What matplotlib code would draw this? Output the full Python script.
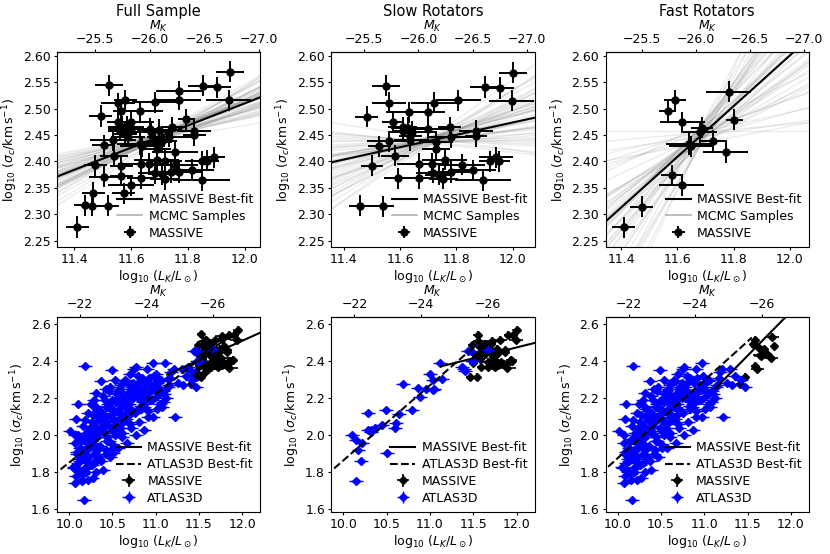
import numpy as np
import matplotlib.pyplot as plt

# MASSIVE full sample: log L_K, log sigma_c, x error
full_x = [11.948, 11.523, 11.852, 11.903, 11.769, 11.943, 11.767, 11.684, 11.580, 11.555,
          11.633, 11.566, 11.493, 11.794, 11.600, 11.555, 11.570, 11.585, 11.600, 11.560,
          11.580, 11.590, 11.665, 11.670, 11.700, 11.745, 11.822, 11.822, 11.735, 11.537,
          11.504, 11.630, 11.640, 11.710, 11.685, 11.690, 11.755, 11.475, 11.566, 11.540,
          11.867, 11.892, 11.850, 11.635, 11.663, 11.690, 11.720, 11.755, 11.770, 11.504,
          11.566, 11.635, 11.683, 11.710, 11.718, 11.740, 11.813, 11.848, 11.600, 11.574,
          11.467, 11.438, 11.464, 11.518, 11.411]
full_y = [2.570, 2.544, 2.543, 2.540, 2.533, 2.516, 2.517, 2.512, 2.516, 2.510,
          2.495, 2.495, 2.486, 2.480, 2.474, 2.475, 2.466, 2.466, 2.462, 2.458,
          2.452, 2.447, 2.462, 2.455, 2.460, 2.465, 2.458, 2.450, 2.447, 2.440,
          2.431, 2.433, 2.429, 2.439, 2.437, 2.424, 2.417, 2.393, 2.392, 2.411,
          2.401, 2.408, 2.400, 2.396, 2.396, 2.403, 2.401, 2.394, 2.380, 2.371,
          2.373, 2.368, 2.378, 2.376, 2.366, 2.380, 2.384, 2.364, 2.355, 2.340,
          2.341, 2.317, 2.316, 2.316, 2.276]
full_xe = [0.05, 0.05, 0.05, 0.05, 0.08, 0.08, 0.08, 0.08, 0.04, 0.06,
           0.08, 0.03, 0.04, 0.03, 0.08, 0.04, 0.05, 0.06, 0.08, 0.04,
           0.04, 0.06, 0.04, 0.06, 0.08, 0.04, 0.06, 0.04, 0.08, 0.08,
           0.04, 0.08, 0.08, 0.05, 0.06, 0.05, 0.08, 0.04, 0.04, 0.05,
           0.04, 0.04, 0.06, 0.08, 0.06, 0.08, 0.06, 0.08, 0.08, 0.05,
           0.04, 0.05, 0.06, 0.05, 0.05, 0.08, 0.08, 0.10, 0.08, 0.04,
           0.04, 0.04, 0.04, 0.04, 0.04]

# MASSIVE slow rotators
slow_x = [12.00, 11.549, 11.90, 11.955, 11.997, 11.807, 11.719, 11.56, 11.631, 11.70,
          11.481, 11.575, 11.609, 11.629, 11.644, 11.611, 11.637, 11.637, 11.70, 11.776,
          11.869, 11.869, 11.781, 11.527, 11.5625, 11.7275, 11.729, 11.50, 11.581, 11.669,
          11.7125, 11.759, 11.95, 11.92, 11.94, 11.821, 11.669, 11.594, 11.716, 11.7375,
          11.754, 11.78, 11.859, 11.894, 11.459, 11.54]
slow_y = [2.568, 2.543, 2.541, 2.539, 2.515, 2.516, 2.511, 2.511, 2.493, 2.493,
          2.485, 2.474, 2.465, 2.464, 2.456, 2.457, 2.448, 2.440, 2.461, 2.465,
          2.458, 2.448, 2.446, 2.429, 2.438, 2.437, 2.424, 2.392, 2.411, 2.396,
          2.396, 2.403, 2.400, 2.400, 2.408, 2.394, 2.368, 2.368, 2.379, 2.375,
          2.367, 2.380, 2.383, 2.364, 2.316, 2.315]
slow_xe = [0.05, 0.05, 0.05, 0.05, 0.08, 0.08, 0.08, 0.06, 0.08, 0.06,
           0.04, 0.04, 0.05, 0.06, 0.08, 0.04, 0.04, 0.06, 0.08, 0.04,
           0.06, 0.04, 0.08, 0.04, 0.08, 0.06, 0.05, 0.04, 0.05, 0.08,
           0.06, 0.08, 0.04, 0.04, 0.06, 0.08, 0.05, 0.05, 0.06, 0.05,
           0.05, 0.08, 0.08, 0.10, 0.04, 0.04]

# MASSIVE fast rotators
fast_x = [11.782, 11.592, 11.566, 11.618, 11.803, 11.687, 11.682, 11.641, 11.650, 11.727,
          11.772, 11.582, 11.615, 11.473, 11.409]
fast_y = [2.532, 2.516, 2.495, 2.474, 2.479, 2.464, 2.455, 2.433, 2.429, 2.439,
          2.417, 2.374, 2.355, 2.314, 2.275]
fast_xe = [0.08, 0.04, 0.03, 0.08, 0.03, 0.04, 0.06, 0.08, 0.08, 0.05,
           0.08, 0.04, 0.08, 0.04, 0.04]

# ATLAS3D slow rotators
a3d_slow_x = [11.111, 11.00, 11.037, 11.137, 10.689, 10.859, 10.956, 11.03, 11.048, 10.881,
              10.789, 10.641, 10.493, 10.289, 10.611, 10.593, 10.444, 10.37, 10.322, 10.289,
              10.315, 10.104, 10.141, 10.211, 10.174, 10.504, 10.204, 10.148,
              11.389, 11.407, 11.481, 11.444, 11.667, 11.474, 11.50, 11.37]
a3d_slow_y = [2.392, 2.330, 2.298, 2.301, 2.274, 2.256, 2.247, 2.244, 2.247, 2.207,
              2.135, 2.112, 2.135, 2.122, 2.068, 2.041, 2.054, 2.039, 2.030, 2.027,
              2.018, 2.003, 1.972, 1.958, 1.918, 1.904, 1.860, 1.752,
              2.356, 2.349, 2.398, 2.452, 2.461, 2.457, 2.403, 2.370]

# ATLAS3D fast rotators
a3d_fast_x = [
    10.08, 10.12, 10.06, 10.10, 10.14, 10.09, 10.13, 10.07, 10.01, 10.15,
    10.05, 10.12, 10.09, 10.14, 10.07, 10.11, 10.07, 10.13, 10.10, 10.08,
    10.17, 10.22, 10.16, 10.20, 10.24, 10.17, 10.21, 10.19, 10.23, 10.16,
    10.20, 10.24, 10.18, 10.22, 10.25, 10.18, 10.21, 10.17, 10.23, 10.19,
    10.25, 10.16, 10.22, 10.20, 10.24,
    10.27, 10.31, 10.26, 10.33, 10.29, 10.34, 10.28, 10.32, 10.26, 10.30,
    10.35, 10.27, 10.33, 10.29, 10.31, 10.28, 10.34, 10.30, 10.26, 10.32,
    10.29, 10.35, 10.27, 10.33, 10.30,
    10.39, 10.37, 10.42, 10.36, 10.44, 10.40, 10.38, 10.43, 10.41, 10.36,
    10.45, 10.39, 10.42, 10.37, 10.44, 10.40, 10.38, 10.43, 10.41, 10.36,
    10.39, 10.44,
    10.47, 10.51, 10.46, 10.53, 10.49, 10.54, 10.48, 10.52, 10.46, 10.50,
    10.55, 10.47, 10.53, 10.49, 10.51, 10.48, 10.54, 10.50, 10.46, 10.52,
    10.49, 10.55,
    10.57, 10.61, 10.56, 10.63, 10.59, 10.64, 10.58, 10.62, 10.56, 10.60,
    10.65, 10.57, 10.63, 10.59, 10.61, 10.58, 10.64, 10.60, 10.56, 10.62,
    10.67, 10.71, 10.66, 10.73, 10.69, 10.74, 10.68, 10.72, 10.66, 10.70,
    10.75, 10.67, 10.73, 10.69, 10.71, 10.68, 10.74, 10.70,
    10.77, 10.81, 10.76, 10.83, 10.79, 10.84, 10.78, 10.82, 10.80, 10.77,
    10.85, 10.79, 10.83, 10.76, 10.81, 10.84,
    10.87, 10.91, 10.86, 10.93, 10.89, 10.94, 10.88, 10.92, 10.90, 10.87,
    10.93, 10.89, 10.95, 10.91,
    10.97, 11.01, 10.96, 11.03, 10.99, 11.04, 10.98, 10.97, 11.02, 11.00,
    11.05, 11.01,
    11.07, 11.12, 11.09, 11.15, 11.06, 11.18, 11.10, 11.14, 11.08, 11.17,
    11.22, 11.21, 11.30, 11.32, 11.42, 11.47, 11.35, 11.26]
a3d_fast_y = [
    1.78, 1.80, 1.82, 1.85, 1.88, 1.90, 1.93, 1.96, 2.02, 1.76,
    1.83, 1.87, 1.91, 1.97, 2.00, 1.81, 1.74, 1.86, 2.17, 2.09,
    1.65, 1.76, 1.79, 1.82, 1.84, 1.87, 1.89, 1.92, 1.95, 1.98,
    2.01, 2.04, 2.08, 2.12, 2.17, 2.376, 1.86, 1.90, 1.93, 1.80,
    1.97, 2.05, 1.88, 1.83, 1.99,
    1.77, 1.80, 1.84, 1.87, 1.90, 1.93, 1.96, 1.99, 2.02, 2.05,
    2.08, 2.11, 2.14, 2.19, 2.23, 1.95, 1.88, 2.00, 2.07, 1.92,
    1.85, 2.03, 1.98, 2.10, 2.16,
    1.81, 1.86, 1.90, 1.94, 1.97, 2.01, 2.04, 2.07, 2.10, 2.13,
    2.17, 2.21, 2.25, 2.29, 1.99, 2.05, 2.12, 1.92, 2.19, 2.08,
    2.02, 2.15,
    1.88, 1.93, 1.97, 2.00, 2.04, 2.07, 2.10, 2.13, 2.16, 2.19,
    2.22, 2.26, 2.30, 2.35, 2.02, 2.11, 2.18, 1.95, 2.24, 2.08,
    2.14, 2.20,
    1.93, 1.99, 2.04, 2.08, 2.12, 2.15, 2.18, 2.21, 2.24, 2.27,
    2.30, 2.06, 2.17, 2.25, 2.01, 2.14, 2.20, 2.10, 2.23, 2.28,
    1.96, 2.04, 2.09, 2.13, 2.17, 2.20, 2.23, 2.26, 2.29, 2.33,
    2.36, 2.15, 2.22, 2.11, 2.25, 2.19, 2.28, 2.06,
    2.00, 2.07, 2.12, 2.16, 2.20, 2.23, 2.26, 2.29, 2.32, 2.37,
    2.18, 2.24, 2.14, 2.27, 2.21, 2.31,
    2.03, 2.10, 2.15, 2.19, 2.22, 2.25, 2.28, 2.31, 2.36, 2.17,
    2.24, 2.20, 2.27, 2.13,
    2.10, 2.14, 2.19, 2.23, 2.26, 2.29, 2.32, 2.39, 2.21, 2.25,
    2.17, 2.28,
    2.15, 2.20, 2.24, 2.27, 2.30, 2.34, 2.22, 2.26, 2.18, 2.31,
    2.10, 2.36, 2.36, 2.27, 2.30, 2.26, 2.32, 2.28]

# best fits: (pivot x, pivot y, slope)
massive_fit = {'full': (11.70, 2.447, 0.21), 'slow': (11.72, 2.441, 0.117),
               'fast': (11.68, 2.447, 0.48)}
massive_fit_bottom = {'full': (11.70, 2.447, 0.21), 'slow': (11.72, 2.441, 0.117),
                      'fast': (11.50, 2.429, 0.475)}
# (x0, y0, slope, x end)
atlas_fit = {'full': (9.86, 1.80, 0.37, 11.95), 'slow': (9.86, 1.807, 0.406, 11.50),
             'fast': (9.86, 1.817, 0.42, 11.55)}

mcmc_slopes = {
    'full': [0.21, 0.15, 0.26, 0.18, 0.23, 0.12, 0.29, 0.20, 0.17, 0.24, 0.10, 0.31, 0.19, 0.22, 0.14,
             0.27, 0.16, 0.25, 0.21, 0.13, 0.28, 0.18, 0.23, 0.11, 0.33, 0.20, 0.16, 0.26, 0.19, 0.22,
             0.17, 0.24, 0.20, 0.13, 0.30, 0.22, 0.18, 0.25, 0.15, 0.27, 0.21, 0.09, 0.23, 0.19, 0.28,
             0.16, 0.34, 0.12, 0.26, 0.20],
    'slow': [0.12, 0.02, 0.22, 0.08, 0.17, -0.03, 0.27, 0.10, 0.05, 0.19, -0.08, 0.31, 0.13, 0.00, 0.24,
             0.07, 0.15, -0.05, 0.20, 0.11, 0.29, 0.04, 0.16, 0.09, 0.35, 0.14, -0.01, 0.21, 0.06, 0.18,
             0.10, 0.25, -0.06, 0.19, 0.03, 0.28, 0.13, 0.08, 0.33, -0.02, 0.16, 0.22, 0.05, 0.12, 0.38,
             0.01, 0.18, 0.26, 0.07, 0.14],
    'fast': [0.48, 0.30, 0.65, 0.40, 0.55, 0.15, 0.85, 0.45, 0.35, 0.60, 0.05, 1.00, 0.50, 0.25, 0.75,
             0.38, 0.58, 0.10, 0.70, 0.44, 0.90, 0.28, 0.52, 0.20, 1.15, 0.62, 0.33, 0.80, 0.42, 0.00,
             0.55, 0.36, 0.68, 0.12, 0.47, 0.95, 0.26, 0.58, 0.40, 0.78, 0.18, 1.05, 0.50, 0.31, 0.66,
             0.08, 0.88, 0.43, 0.54, 0.72]}
mcmc_shift = [0.004, -0.006, 0.002, -0.003, 0.007, -0.001, -0.008, 0.005, 0.001, -0.004,
              0.003, 0.006, -0.007, 0.000, 0.004, -0.002, 0.008, -0.005, 0.002, -0.003,
              0.005, -0.006, 0.001, 0.003, -0.004, 0.007, -0.001, 0.002, -0.008, 0.004,
              0.006, -0.002, -0.007, 0.003, 0.001, -0.005, 0.008, -0.004, 0.002, -0.001,
              0.005, -0.006, 0.004, -0.003, 0.007, 0.000, -0.008, 0.003, -0.002, 0.006]

titles = ['Full Sample', 'Slow Rotators', 'Fast Rotators']
keys = ['full', 'slow', 'fast']
top_xlim = {'full': (11.34, 12.055), 'slow': (11.356, 12.078), 'fast': (11.345, 12.068)}

# M_K axis
MK_ZERO = 4.33
MK_SLOPE = 2.6
ylab = r'$\log_{10}\,(\sigma_c/\mathrm{km\,s^{-1}})$'
xlab = r'$\log_{10}\,(L_K/L_\odot)$'


def to_mk(L):
    return MK_ZERO - MK_SLOPE * L


def to_lk(M):
    return (MK_ZERO - M) / MK_SLOPE


plt.rcParams.update({'font.size': 9, 'axes.labelsize': 9,
                     'xtick.major.size': 2.5, 'ytick.major.size': 2.5,
                     'xtick.major.pad': 2, 'ytick.major.pad': 2})
fig, axes = plt.subplots(2, 3, figsize=(8.3, 5.54), dpi=100)
fig.subplots_adjust(left=0.0687, right=0.9747, bottom=0.0758, top=0.906, wspace=0.348, hspace=0.359)

massive = {'full': (full_x, full_y, full_xe),
           'slow': (slow_x, slow_y, slow_xe),
           'fast': (fast_x, fast_y, fast_xe)}
atlas = {'full': (a3d_slow_x + a3d_fast_x, a3d_slow_y + a3d_fast_y),
         'slow': (a3d_slow_x, a3d_slow_y),
         'fast': (a3d_fast_x, a3d_fast_y)}

leg_kw = dict(loc='lower right', frameon=False, fontsize=9, handlelength=2.0,
              handletextpad=0.5, labelspacing=0.3, borderaxespad=0.2)

for j, k in enumerate(keys):
    # top row: MASSIVE only, with MCMC samples
    ax = axes[0, j]
    mx, my, mxe = massive[k]
    x0, y0, b = massive_fit[k]
    xx = np.array([11.2, 12.3])
    for s, d in zip(mcmc_slopes[k], mcmc_shift):
        sh = d * (2.5 if k == 'fast' else 1.0)
        ax.plot(xx, y0 + sh + s * (xx - x0), color='gray', alpha=0.15, lw=1, zorder=1)
    ax.plot([], [], color='gray', alpha=0.6, lw=1.2, label='MCMC Samples')
    ax.errorbar(mx, my, xerr=mxe, yerr=0.02, fmt='o', color='k', ms=5,
                elinewidth=1.4, capsize=0, label='MASSIVE', zorder=3)
    ax.plot(xx, y0 + b * (xx - x0), color='k', lw=1.5, label='MASSIVE Best-fit', zorder=4)
    ax.set_xlim(*top_xlim[k])
    ax.set_ylim(2.238, 2.607)
    ax.set_xticks([11.4, 11.6, 11.8, 12.0])
    ax.set_yticks(np.arange(2.25, 2.61, 0.05))
    ax.set_xlabel(xlab, labelpad=1)
    ax.set_ylabel(ylab, labelpad=2)
    h, l = ax.get_legend_handles_labels()
    order = [l.index('MASSIVE Best-fit'), l.index('MCMC Samples'), l.index('MASSIVE')]
    ax.legend([h[i] for i in order], [l[i] for i in order], **leg_kw)
    sec = ax.secondary_xaxis('top', functions=(to_mk, to_lk))
    sec.set_xticks([-25.5, -26.0, -26.5, -27.0])
    sec.set_xlabel(r'$M_K$', labelpad=2)
    ax.set_title(titles[j], fontsize=10.5, pad=2)

    # bottom row: MASSIVE with ATLAS3D
    ax = axes[1, j]
    a_x, a_y = atlas[k]
    ax.errorbar(mx, my, xerr=mxe, yerr=0.02, fmt='D', color='k', ms=4,
                elinewidth=1.2, capsize=0, label='MASSIVE', zorder=2)
    ax.errorbar(a_x, a_y, xerr=0.08, yerr=0.012, fmt='D', color='#0000ff', ms=4,
                elinewidth=1.0, capsize=0, label='ATLAS3D', zorder=3)
    x0, y0, b = massive_fit_bottom[k]
    xs = np.array([11.13, 12.4])
    ax.plot(xs, y0 + b * (xs - x0), color='k', lw=1.5, label='MASSIVE Best-fit', zorder=5)
    ax0, ay0, ab, aend = atlas_fit[k]
    xd = np.array([9.7, aend])
    ax.plot(xd, ay0 + ab * (xd - ax0), color='k', ls='--', lw=1.5, label='ATLAS3D Best-fit', zorder=5)
    ax.set_xlim(9.86, 12.21)
    ax.set_ylim(1.585, 2.638)
    ax.set_xticks([10.0, 10.5, 11.0, 11.5, 12.0])
    ax.set_yticks([1.6, 1.8, 2.0, 2.2, 2.4, 2.6])
    ax.set_xlabel(xlab, labelpad=1)
    ax.set_ylabel(ylab, labelpad=2)
    ax.legend(**leg_kw)
    sec = ax.secondary_xaxis('top', functions=(to_mk, to_lk))
    sec.set_xticks([-22, -24, -26])
    sec.set_xlabel(r'$M_K$', labelpad=2)

fig.savefig('out.png', dpi=100)
